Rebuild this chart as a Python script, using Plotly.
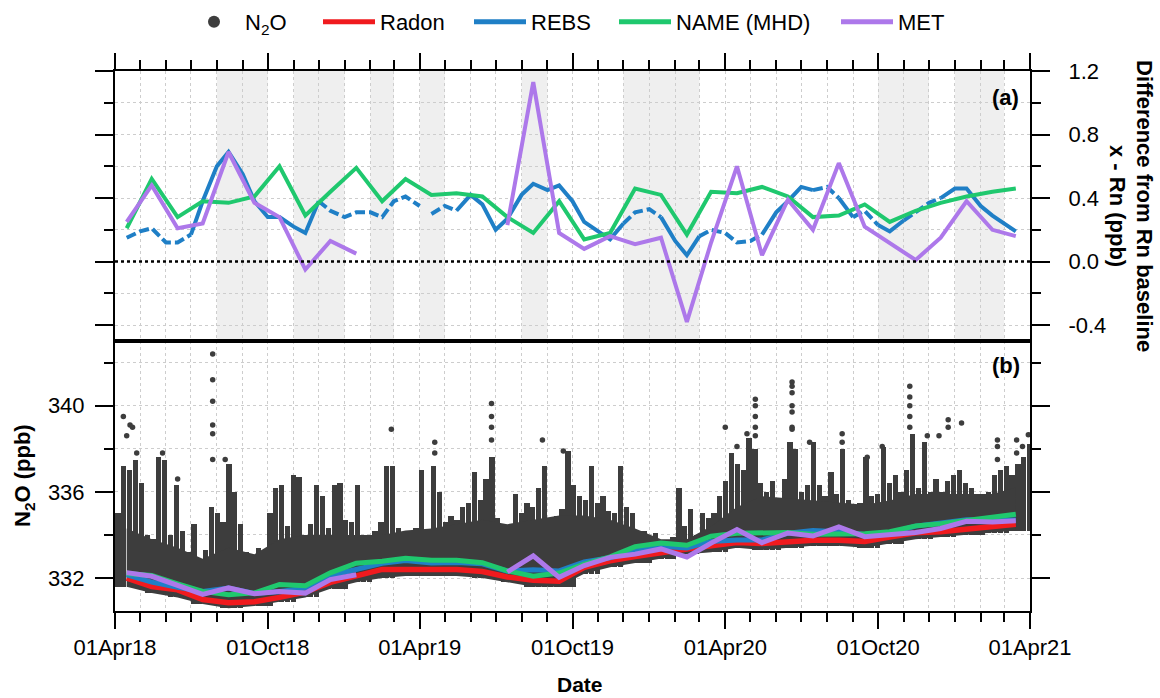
import pandas as pd
import plotly.graph_objects as go

# ---------------------------------------------------------------- data
# monthly (mid-month) baselines
MONTH_START = pd.date_range("2018-04-01", periods=36, freq="MS")
MONTHS = MONTH_START + pd.Timedelta(days=14)

RADON = [332.0, 331.6, 331.45, 331.0, 330.85, 330.9, 331.1, 331.35, 331.8,
         332.1, 332.4, 332.4, 332.4, 332.4, 332.3, 332.05, 331.9, 331.85,
         332.5, 332.8, 333.0, 333.2, 333.35, 333.5, 333.65, 333.6, 333.7,
         333.75, 333.75, 333.7, 333.9, 334.1, 334.15, 334.25, 334.4, 334.5]

# differences from the radon baseline (ppb)
NAME_DIFF = [0.21, 0.52, 0.28, 0.38, 0.37, 0.41, 0.60, 0.29, 0.44,
             0.59, 0.38, 0.52, 0.42, 0.43, 0.41, 0.28, 0.18, 0.38,
             0.14, 0.18, 0.46, 0.42, 0.17, 0.44, 0.43, 0.47, 0.41,
             0.28, 0.29, 0.36, 0.25, 0.32, 0.37, 0.41, 0.44, 0.46]

MET_DIFF = [0.25, 0.48, 0.21, 0.24, 0.69, 0.37, 0.28, -0.05, 0.13,
            0.05, None, None, None, None, None, 0.23, 1.13, 0.18,
            0.08, 0.16, 0.11, 0.15, -0.38, 0.12, 0.60, 0.04, 0.39,
            0.20, 0.62, 0.22, 0.12, 0.01, 0.15, 0.38, 0.20, 0.16]

REBS_DATES = ["2018-04-15",
              "2018-05-01", "2018-05-15", "2018-06-01", "2018-06-15",
              "2018-07-01", "2018-07-15", "2018-08-01", "2018-08-15",
              "2018-09-01", "2018-09-15", "2018-10-01", "2018-10-15",
              "2018-11-01", "2018-11-15", "2018-12-01", "2018-12-15",
              "2019-01-01", "2019-01-15", "2019-02-01", "2019-02-15",
              "2019-03-01", "2019-03-15", "2019-04-01", "2019-04-08",
              "2019-04-15",
              "2019-05-01", "2019-05-15", "2019-06-01", "2019-06-15",
              "2019-07-01", "2019-07-15", "2019-08-01", "2019-08-15",
              "2019-09-01", "2019-09-15", "2019-10-01", "2019-10-15",
              "2019-11-01", "2019-11-15", "2019-12-01", "2019-12-15",
              "2020-01-01", "2020-01-15", "2020-02-01", "2020-02-15",
              "2020-03-01", "2020-03-15", "2020-04-01", "2020-04-15",
              "2020-05-01", "2020-05-15", "2020-06-01", "2020-06-15",
              "2020-07-01", "2020-07-15", "2020-08-01", "2020-08-15",
              "2020-09-01", "2020-09-15", "2020-10-01", "2020-10-15",
              "2020-11-01", "2020-11-15", "2020-12-01", "2020-12-15",
              "2021-01-01", "2021-01-15", "2021-02-01", "2021-02-15",
              "2021-03-01", "2021-03-15"]
REBS_DIFF = [0.15,
             0.19, 0.21, 0.12, 0.12,
             0.17, 0.38, 0.60, 0.69,
             0.55, 0.38, 0.28, 0.28,
             0.22, 0.18, 0.38, 0.32,
             0.28, 0.31, 0.31, 0.28,
             0.38, 0.41, 0.35, None,
             0.30,
             0.35, 0.32, 0.42, 0.36,
             0.20, 0.27, 0.42, 0.49,
             0.45, 0.48, 0.38, 0.25,
             0.19, 0.14, 0.24, 0.31,
             0.33, 0.28, 0.13, 0.04,
             0.16, 0.20, 0.18, 0.12,
             0.13, 0.17, 0.31, 0.38,
             0.47, 0.45, 0.47, 0.40,
             0.28, 0.32, 0.23, 0.19,
             0.26, 0.31, 0.37, 0.40,
             0.46, 0.46, 0.35, 0.29,
             0.24, 0.19]

# periods where the REBS curve is gap-filled (drawn dashed)
REBS_FILLED = [("2018-04-10", "2018-06-25"), ("2018-11-25", "2019-05-20"),
               ("2019-12-01", "2020-01-20"), ("2020-02-25", "2020-05-10"),
               ("2020-07-10", "2020-08-10"), ("2020-09-01", "2020-10-05"),
               ("2020-11-05", "2020-12-10")]

# shaded periods in panel (a)
SHADED = [("2018-08-01", "2018-10-01"), ("2018-11-01", "2019-01-01"),
          ("2019-02-01", "2019-03-01"), ("2019-04-01", "2019-05-01"),
          ("2019-08-01", "2019-09-01"), ("2019-12-01", "2020-03-01"),
          ("2020-10-01", "2020-12-01"), ("2021-01-01", "2021-03-01")]

# right-hand axis of panel (a)
DIFF_TICKS = [-0.4, 0.0, 0.4, 0.8, 1.2]
DIFF_TICK_TEXT = ["-0.4", "0.0", "0.4", "0.8", "1.2"]

# N2O observations: weekly upper edge of the record
WEEK_START = pd.date_range("2018-04-01", periods=157, freq="7D")
N2O_WEEK_HIGH = [
    335.0, 337.2, 337.0, 337.5, 336.4, 334.0, 333.8, 337.6, 337.5, 334.0,
    336.3, 334.2, 333.2, 334.5, 332.8, 333.3, 335.3, 335.0, 334.6, 337.3,
    336.0, 334.5, 333.2, 333.0, 333.4, 333.2, 335.0, 336.2, 336.3, 334.4,
    336.8, 336.7, 334.0, 334.5, 336.3, 335.8, 334.3, 336.3, 336.4, 334.7,
    334.6, 336.3, 333.8, 334.0, 334.2, 334.6, 337.2, 337.2, 334.3, 334.0,
    334.2, 334.3, 337.0, 333.5, 337.2, 336.0, 334.6, 334.9, 334.7, 335.3,
    335.5, 336.9, 335.6, 336.6, 337.6, 334.8, 334.5, 334.3, 335.9, 335.0,
    335.5, 335.3, 336.2, 337.2, 334.7, 334.9, 335.2, 337.9, 336.3, 335.8,
    335.6, 337.2, 335.5, 335.8, 335.1, 335.0, 337.2, 335.3, 335.0, 334.0,
    334.2, 333.9, 334.1, 333.5, 333.4, 333.9, 336.2, 334.4, 335.2, 334.0,
    335.0, 334.8, 335.0, 335.8, 336.5, 337.8, 337.3, 337.0, 338.5, 338.0,
    336.4, 336.0, 336.5, 335.5, 336.6, 338.3, 338.0, 336.0, 336.3, 338.3,
    336.3, 335.8, 336.9, 335.9, 338.0, 335.6, 335.3, 335.5, 337.6, 335.8,
    335.9, 338.1, 336.4, 336.8, 336.0, 337.0, 338.7, 336.2, 338.3, 336.0,
    336.6, 336.0, 336.5, 336.8, 337.0, 336.4, 336.2, 335.8, 335.5, 336.0,
    336.8, 337.0, 337.2, 336.8, 337.3, 337.6, 338.2]
# monthly edges of the densely populated part of the record
N2O_MONTH_LOW = [331.6, 331.3, 331.1, 330.8, 330.6, 330.7, 330.9, 331.1, 331.5,
                 331.8, 332.0, 332.1, 332.1, 332.1, 332.0, 331.8, 331.6, 331.6,
                 332.2, 332.5, 332.7, 332.9, 333.1, 333.2, 333.4, 333.3, 333.4,
                 333.5, 333.5, 333.4, 333.6, 333.8, 333.9, 334.0, 334.1, 334.2]
N2O_MONTH_CORE = [334.3, 333.8, 333.4, 332.9, 333.4, 333.1, 333.8, 334.0, 334.0,
                  334.0, 334.0, 334.2, 334.3, 334.5, 334.7, 334.5, 334.7, 334.9,
                  334.9, 334.7, 334.3, 333.8, 333.8, 334.4, 335.3, 335.8, 335.7,
                  335.6, 335.5, 335.4, 335.6, 335.9, 335.9, 335.9, 335.9, 336.2]

# isolated high N2O observations
PEAK_DATES = ["2018-04-11", "2018-04-15", "2018-04-19", "2018-04-22", "2018-04-27",
              "2018-05-28", "2018-06-15",
              "2018-07-27", "2018-07-27", "2018-07-27", "2018-07-27", "2018-07-27",
              "2018-07-27", "2018-08-11",
              "2019-02-26", "2019-04-19", "2019-04-19",
              "2019-06-26", "2019-06-26", "2019-06-26", "2019-06-26",
              "2019-08-26", "2019-09-20",
              "2020-04-01", "2020-04-15", "2020-04-27",
              "2020-05-07", "2020-05-07", "2020-05-07", "2020-05-07", "2020-05-07",
              "2020-06-20", "2020-06-20", "2020-06-20", "2020-06-20", "2020-06-20",
              "2020-06-20", "2020-06-20",
              "2020-07-11", "2020-08-19", "2020-08-19", "2020-09-18", "2020-10-06",
              "2020-11-08", "2020-11-08", "2020-11-08", "2020-11-08", "2020-11-08",
              "2020-11-29", "2020-12-13", "2020-12-24", "2020-12-24", "2021-01-09",
              "2021-02-21", "2021-02-21", "2021-02-21",
              "2021-03-16", "2021-03-16", "2021-03-23", "2021-03-30"]
PEAK_VALUES = [339.5, 338.6, 339.1, 339.0, 337.8,
               337.8, 336.6,
               342.4, 341.2, 340.2, 339.1, 338.7,
               337.5, 337.5,
               338.9, 338.3, 337.8,
               340.1, 339.5, 339.0, 338.4,
               338.4, 337.9,
               339.0, 338.1, 338.7,
               340.3, 340.0, 339.5, 339.0, 338.6,
               341.1, 340.9, 340.6, 340.0, 339.7,
               339.0, 338.9,
               338.3, 338.7, 338.3, 337.6, 338.1,
               340.9, 340.4, 340.0, 339.5, 339.0,
               338.6, 338.6, 339.35, 339.0, 339.2,
               338.4, 338.1, 337.5,
               338.4, 337.8, 338.1, 338.65]

# ---------------------------------------------------------------- style
FONT = "Liberation Sans, Arial, sans-serif"
RED = "#f01a1e"
BLUE = "#1f7fc6"
GREEN = "#1fc86e"
PURPLE = "#ad78ea"
DARK = "#3d3d3d"
GRID = "#cdcdcd"

W, H = 1160, 698
X0, X1 = 115, 1030          # plot area, px
YA_TOP, YMID, YB_BOT = 71, 341, 611
LEGEND_TEXT_X = [249, 384, 535, 680, 902]   # where each legend label starts


def px_x(p):
    return p / W


def px_y(p):
    return 1 - p / H


def month_index(dates):
    return [(d.year - 2018) * 12 + d.month - 4 for d in dates]


# ---------------------------------------------------------------- traces
fig = go.Figure()

# dense N2O record: solid monthly band plus weekly columns above it
fig.add_trace(go.Scatter(x=MONTHS, y=N2O_MONTH_LOW, mode="lines",
                         line=dict(width=0, color=DARK), showlegend=False,
                         hoverinfo="skip", xaxis="x", yaxis="y"))
fig.add_trace(go.Scatter(x=MONTHS, y=N2O_MONTH_CORE, mode="lines",
                         line=dict(width=0, color=DARK), fill="tonexty",
                         fillcolor=DARK, showlegend=False, hoverinfo="skip",
                         xaxis="x", yaxis="y"))
week_low = [N2O_MONTH_LOW[i] for i in month_index(WEEK_START)]
centres = WEEK_START + pd.Timedelta(hours=84)
fig.add_trace(go.Bar(
    x=centres, base=week_low,
    y=[h - lo for h, lo in zip(N2O_WEEK_HIGH, week_low)],
    width=6.3 * 86400000, marker=dict(color=DARK, line=dict(width=0)),
    xaxis="x", yaxis="y", showlegend=False, hoverinfo="skip"))

fig.add_trace(go.Scatter(
    x=pd.to_datetime(PEAK_DATES), y=PEAK_VALUES, mode="markers",
    marker=dict(color=DARK, size=5.5), name="N<sub>2</sub>O",
    xaxis="x", yaxis="y", legend="legend"))

# absolute baselines (panel b)
rebs_mid = [(pd.Timestamp(d), v) for d, v in zip(REBS_DATES, REBS_DIFF)
            if pd.Timestamp(d).day == 15 and v is not None]
rebs_abs_x = [d for d, _ in rebs_mid]
rebs_abs_y = [RADON[month_index([d])[0]] + v for d, v in rebs_mid]
name_abs = [r + d for r, d in zip(RADON, NAME_DIFF)]
met_abs = [None if d is None else r + d for r, d in zip(RADON, MET_DIFF)]

fig.add_trace(go.Scatter(x=MONTHS, y=RADON, mode="lines", name="Radon",
                         line=dict(color=RED, width=5.5), xaxis="x", yaxis="y",
                         legend="legend2"))
fig.add_trace(go.Scatter(x=rebs_abs_x, y=rebs_abs_y, mode="lines", name="REBS",
                         line=dict(color=BLUE, width=5), xaxis="x", yaxis="y",
                         legend="legend3"))
fig.add_trace(go.Scatter(x=MONTHS, y=name_abs, mode="lines", name="NAME (MHD)",
                         line=dict(color=GREEN, width=5), xaxis="x", yaxis="y",
                         legend="legend4"))
fig.add_trace(go.Scatter(x=MONTHS, y=met_abs, mode="lines", name="MET",
                         line=dict(color=PURPLE, width=5), xaxis="x", yaxis="y",
                         legend="legend5"))


# panel a: REBS split into measured (solid) and gap-filled (dashed) runs
def split_runs(dates, vals, ranges):
    runs = {False: ([], []), True: ([], [])}
    prev = None
    spans = [(pd.Timestamp(a), pd.Timestamp(b)) for a, b in ranges]
    for i in range(len(dates) - 1):
        v0, v1 = vals[i], vals[i + 1]
        if v0 is None or v1 is None:
            prev = None
            continue
        mid = dates[i] + (dates[i + 1] - dates[i]) / 2
        dashed = any(a <= mid <= b for a, b in spans)
        xs, ys = runs[dashed]
        if prev is not None and prev[0] == dashed and prev[1] == i:
            xs.append(dates[i + 1])
            ys.append(v1)
        else:
            xs.extend([None, dates[i], dates[i + 1]])
            ys.extend([None, v0, v1])
        prev = (dashed, i + 1)
    return runs


rebs_dates = [pd.Timestamp(d) for d in REBS_DATES]
runs = split_runs(rebs_dates, REBS_DIFF, REBS_FILLED)
fig.add_trace(go.Scatter(x=runs[False][0], y=runs[False][1], mode="lines",
                         line=dict(color=BLUE, width=4), showlegend=False,
                         xaxis="x2", yaxis="y2", connectgaps=False))
fig.add_trace(go.Scatter(x=runs[True][0], y=runs[True][1], mode="lines",
                         line=dict(color=BLUE, width=4, dash="10px,4px"),
                         showlegend=False, xaxis="x2", yaxis="y2",
                         connectgaps=False))
fig.add_trace(go.Scatter(x=MONTHS, y=NAME_DIFF, mode="lines",
                         line=dict(color=GREEN, width=4), showlegend=False,
                         xaxis="x2", yaxis="y2"))
fig.add_trace(go.Scatter(x=MONTHS, y=MET_DIFF, mode="lines",
                         line=dict(color=PURPLE, width=4), showlegend=False,
                         xaxis="x2", yaxis="y2", connectgaps=False))

# ---------------------------------------------------------------- layout
tick_font = dict(family=FONT, size=22, color="black")
x_common = dict(
    type="date", range=["2018-04-01", "2021-04-01"],
    domain=[px_x(X0), px_x(X1)], automargin=False,
    dtick="M6", tick0="2018-04-01", tickformat="%d%b%y",
    ticks="outside", ticklen=16, tickwidth=2, tickcolor="black",
    showline=True, linewidth=2, linecolor="black", mirror=True,
    showgrid=True, gridcolor=GRID, griddash="dot", gridwidth=1,
    zeroline=False, tickfont=tick_font,
    minor=dict(dtick="M1", ticks="outside", ticklen=9, tickwidth=2,
               tickcolor="black", showgrid=True, gridcolor=GRID,
               griddash="dot", gridwidth=1),
)
y_common = dict(
    ticks="outside", tickwidth=2, tickcolor="black", automargin=False,
    showline=True, linewidth=2, linecolor="black", mirror="ticks",
    showgrid=True, gridcolor=GRID, griddash="dot", gridwidth=1,
    zeroline=False, tickfont=tick_font,
)

shapes = []
for a, b in SHADED:
    shapes.append(dict(type="rect", xref="x2", yref="y2 domain", x0=a, x1=b,
                       y0=0, y1=1, fillcolor="#efefef", line=dict(width=0),
                       layer="below"))
shapes.append(dict(type="line", xref="x2 domain", yref="y2", x0=0, x1=1,
                   y0=0, y1=0, line=dict(color="black", width=2.5, dash="dot")))


def label(text, x, y, angle=0, size=22):
    return dict(text=text, x=px_x(x), y=px_y(y), xref="paper", yref="paper",
                xanchor="center", yanchor="middle", showarrow=False,
                textangle=angle, font=dict(family=FONT, size=size))


annotations = [
    label("<b>(a)</b>", 1005, 98),
    label("<b>(b)</b>", 1006, 366),
    label("<b>N<sub>2</sub>O (ppb)</b>", 24, 476, -90),
    label("<b>Date</b>", 580, 684, size=21),
    label("<b>Difference from Rn baseline</b>", 1145, 206, 90),
    label("<b>x - Rn (ppb)</b>", 1118, 206, 90),
]

legend_style = dict(orientation="h", xanchor="left", yanchor="middle",
                    y=px_y(22), font=dict(family=FONT, size=22),
                    itemsizing="constant", itemwidth=52,
                    bgcolor="rgba(0,0,0,0)")
legends = {}
for k, tx in enumerate(LEGEND_TEXT_X):
    key = "legend" if k == 0 else "legend%d" % (k + 1)
    legends[key] = dict(legend_style, x=px_x(tx - 66))

fig.update_layout(
    width=W, height=H, autosize=False,
    margin=dict(l=0, r=0, t=0, b=0, autoexpand=False),
    paper_bgcolor="white", plot_bgcolor="white",
    font=dict(family=FONT, color="black"),
    bargap=0,
    xaxis=dict(x_common, anchor="y"),
    xaxis2=dict(x_common, anchor="y2", side="top", matches="x",
                showticklabels=False),
    yaxis=dict(y_common, domain=[px_y(YB_BOT), px_y(YMID)],
               range=[330.47, 343.0], dtick=4, tick0=332, ticklen=18,
               side="left", anchor="x", ticklabelstandoff=6,
               minor=dict(dtick=2, tick0=332, ticks="outside", ticklen=9,
                          tickwidth=2, tickcolor="black", showgrid=True,
                          gridcolor=GRID, griddash="dot", gridwidth=1)),
    yaxis2=dict(y_common, domain=[px_y(YMID), px_y(YA_TOP)],
                range=[-0.5, 1.2], tickmode="array", tickvals=DIFF_TICKS,
                ticktext=DIFF_TICK_TEXT,
                ticklen=18, side="right", anchor="x2", ticklabelstandoff=14,
                minor=dict(dtick=0.2, tick0=0, ticks="outside", ticklen=9,
                           tickwidth=2, tickcolor="black", showgrid=True,
                           gridcolor=GRID, griddash="dot", gridwidth=1)),
    yaxis3=dict(overlaying="y2", anchor="free", position=px_x(61),
                side="left", range=[-0.011, 3.022], dtick=0.5, tick0=0,
                tickformat=".1f", ticks="outside", ticklen=18, tickwidth=1.5,
                tickcolor="#f3f3f3", showline=True, linecolor="#f5f5f5",
                linewidth=1.5, showgrid=False, zeroline=False,
                automargin=False,
                tickfont=dict(family=FONT, size=22, color="#eeeeee")),
    shapes=shapes,
    annotations=annotations,
    **legends,
)

fig.write_html("out.html")
